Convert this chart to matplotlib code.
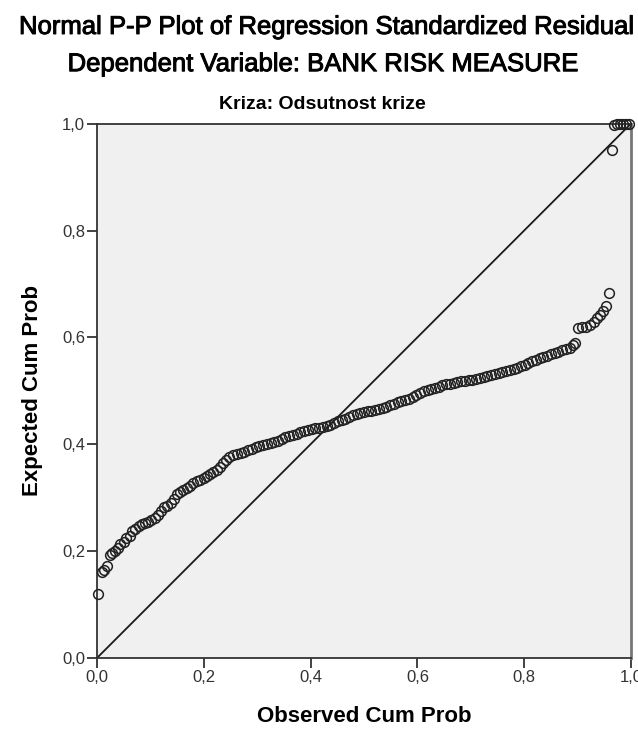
import matplotlib
matplotlib.use("Agg")
import matplotlib.pyplot as plt
import matplotlib.patheffects as pe

plt.rcParams["font.family"] = ["Liberation Sans", "DejaVu Sans"]

# Observed cumulative probability (x) and expected cumulative probability (y)
observed = [0.002, 0.010, 0.014, 0.018, 0.024, 0.029, 0.034, 0.039, 0.044, 0.050,
            0.055, 0.061, 0.066, 0.072, 0.078, 0.084, 0.090, 0.096, 0.102, 0.108,
            0.114, 0.120, 0.126, 0.132, 0.138, 0.144, 0.150, 0.156, 0.162, 0.168,
            0.174, 0.180, 0.187, 0.193, 0.200, 0.206, 0.212, 0.218, 0.224, 0.230,
            0.236, 0.242, 0.248, 0.255, 0.262, 0.269, 0.276, 0.283, 0.290, 0.297,
            0.304, 0.311, 0.318, 0.325, 0.332, 0.339, 0.346, 0.353, 0.360, 0.367,
            0.374, 0.381, 0.388, 0.395, 0.402, 0.409, 0.416, 0.423, 0.430, 0.437,
            0.444, 0.451, 0.458, 0.465, 0.472, 0.479, 0.486, 0.493, 0.500, 0.507,
            0.514, 0.521, 0.528, 0.535, 0.542, 0.549, 0.556, 0.563, 0.570, 0.577,
            0.584, 0.591, 0.598, 0.605, 0.612, 0.619, 0.626, 0.633, 0.640, 0.647,
            0.654, 0.661, 0.668, 0.675, 0.682, 0.689, 0.696, 0.703, 0.710, 0.717,
            0.724, 0.731, 0.738, 0.745, 0.752, 0.759, 0.766, 0.773, 0.780, 0.787,
            0.794, 0.801, 0.808, 0.815, 0.822, 0.829, 0.836, 0.843, 0.850, 0.857,
            0.864, 0.871, 0.878, 0.885, 0.892, 0.896,
            0.901, 0.908, 0.916, 0.923, 0.930, 0.936, 0.942, 0.947, 0.953, 0.959,
            0.964, 0.968, 0.974, 0.979, 0.985, 0.991, 0.996]
expected = [0.120, 0.160, 0.165, 0.172, 0.193, 0.197, 0.200, 0.205, 0.213, 0.218,
            0.225, 0.229, 0.237, 0.242, 0.247, 0.250, 0.252, 0.255, 0.259, 0.262,
            0.268, 0.276, 0.282, 0.285, 0.290, 0.297, 0.306, 0.311, 0.314, 0.318,
            0.322, 0.327, 0.331, 0.334, 0.337, 0.340, 0.345, 0.348, 0.352, 0.358,
            0.364, 0.370, 0.376, 0.380, 0.382, 0.384, 0.386, 0.389, 0.391, 0.394,
            0.396, 0.398, 0.401, 0.403, 0.405, 0.407, 0.410, 0.413, 0.416, 0.418,
            0.420, 0.422, 0.424, 0.426, 0.428, 0.430, 0.431, 0.432, 0.434, 0.436,
            0.440, 0.443, 0.445, 0.448, 0.451, 0.454, 0.457, 0.459, 0.461, 0.462,
            0.463, 0.465, 0.466, 0.468, 0.470, 0.473, 0.476, 0.479, 0.481, 0.483,
            0.485, 0.488, 0.492, 0.496, 0.500, 0.502, 0.504, 0.506, 0.508, 0.510,
            0.512, 0.513, 0.514, 0.516, 0.518, 0.519, 0.520, 0.521, 0.522, 0.524,
            0.525, 0.527, 0.529, 0.531, 0.533, 0.535, 0.537, 0.539, 0.541, 0.543,
            0.546, 0.549, 0.552, 0.555, 0.558, 0.561, 0.563, 0.566, 0.568, 0.571,
            0.573, 0.576, 0.578, 0.580, 0.585, 0.590,
            0.618, 0.620, 0.620, 0.624, 0.629, 0.637, 0.642, 0.650, 0.659, 0.683,
            0.951, 0.998, 1.000, 1.000, 1.000, 1.000, 1.000]

tick_values = [0.0, 0.2, 0.4, 0.6, 0.8, 1.0]
tick_labels = ["0,0", "0,2", "0,4", "0,6", "0,8", "1,0"]

fig = plt.figure(figsize=(6.38, 7.29), dpi=100)
ax = fig.add_axes([0.152, 0.0974, 0.837, 0.733])
ax.set_facecolor("#f0f0f0")

# referentna dijagonala
ax.plot([0, 1], [0, 1], color="#1a1a1a", lw=1.3, zorder=2)
ax.plot(observed, expected, "o", mfc="none", mec="#222222", mew=1.1, ms=7, zorder=3,
        clip_on=False)

ax.set_xlim(0, 1)
ax.set_ylim(0, 1)
ax.set_xticks(tick_values)
ax.set_xticklabels(tick_labels)
ax.set_yticks(tick_values)
ax.set_yticklabels(tick_labels)
ax.tick_params(direction="out", length=7, width=1.3, color="#333333",
               labelsize=12, labelcolor="#333333", pad=1.5)
for s in ax.spines.values():
    s.set_color("#333333")
    s.set_linewidth(1.3)
ax.spines["right"].set_color("#777777")
ax.spines["right"].set_linewidth(2)

ax.set_xlabel("Observed Cum Prob", fontsize=16, fontweight="bold", labelpad=15)
ax.set_ylabel("Expected Cum Prob", fontsize=16, fontweight="bold", labelpad=14)

# naslovi malo deblji, kao u SPSS-u
thick = [pe.withStroke(linewidth=0.7, foreground="black")]
fig.text(0.513, 0.963, "Normal P-P Plot of Regression Standardized Residual",
         ha="center", va="center", fontsize=18.5, path_effects=thick)
fig.text(0.507, 0.912, "Dependent Variable: BANK RISK MEASURE",
         ha="center", va="center", fontsize=18.5, path_effects=thick)
fig.text(0.505, 0.856, "Kriza: Odsutnost krize", ha="center", va="center",
         fontsize=14, fontweight="bold")

fig.savefig("out.png", dpi=100)
